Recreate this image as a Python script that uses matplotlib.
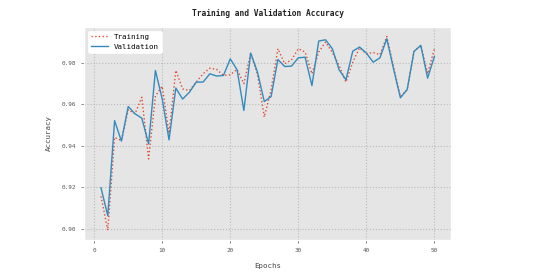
import matplotlib
matplotlib.use('Agg')
import matplotlib.pyplot as plt

# accuracy per epoch
epochs = list(range(1, 51))
train_acc = [0.9156, 0.8992, 0.9440, 0.9425, 0.9573, 0.9554, 0.9634, 0.9336, 0.9640, 0.9687,
             0.9460, 0.9763, 0.9674, 0.9666, 0.9707, 0.9747, 0.9774, 0.9768, 0.9739, 0.9742,
             0.9768, 0.9699, 0.9847, 0.9744, 0.9538, 0.9670, 0.9868, 0.9795, 0.9814, 0.9868,
             0.9852, 0.9747, 0.9852, 0.9900, 0.9850, 0.9787, 0.9707, 0.9803, 0.9872, 0.9843,
             0.9850, 0.9839, 0.9927, 0.9780, 0.9637, 0.9670, 0.9855, 0.9884, 0.9747, 0.9868]
val_acc = [0.9197, 0.9062, 0.9521, 0.9422, 0.9589, 0.9554, 0.9533, 0.9409, 0.9763, 0.9625,
           0.9428, 0.9678, 0.9625, 0.9658, 0.9707, 0.9707, 0.9747, 0.9736, 0.9739, 0.9819,
           0.9766, 0.9570, 0.9847, 0.9755, 0.9613, 0.9637, 0.9816, 0.9782, 0.9784, 0.9824,
           0.9827, 0.9690, 0.9905, 0.9911, 0.9868, 0.9766, 0.9718, 0.9856, 0.9876, 0.9847,
           0.9803, 0.9824, 0.9916, 0.9770, 0.9631, 0.9671, 0.9855, 0.9884, 0.9726, 0.9831]

plt.style.use('ggplot')
plt.rcParams['font.family'] = 'DejaVu Sans Mono'

fig = plt.figure(figsize=(5.37, 2.79), dpi=100)
ax = fig.add_axes([0.157, 0.140, 0.683, 0.764])

ax.plot(epochs, train_acc, linestyle=':', color='#E24A33', linewidth=1.0, label='Training')
ax.plot(epochs, val_acc, linestyle='-', color='#348ABD', linewidth=1.0, label='Validation')

ax.grid(True, linestyle=':', color='#BBBBBB', linewidth=0.8)
ax.set_facecolor('#E5E5E5')
ax.set_yticks([0.90, 0.92, 0.94, 0.96, 0.98])
ax.set_xticks([0, 10, 20, 30, 40, 50])
ax.tick_params(labelsize=4.3, colors='#555555', length=2.5, width=0.5)

ax.set_title('Training and Validation Accuracy', fontsize=5.7, fontweight='bold',
             color='#222222', pad=8)
ax.set_xlabel('Epochs', fontsize=5.3, color='#444444', labelpad=7)
ax.set_ylabel('Accuracy', fontsize=5.3, color='#444444', labelpad=7)

leg = ax.legend(loc='upper left', fontsize=5.4, frameon=True, facecolor='white',
                edgecolor='white', framealpha=1.0, handlelength=2.2)

fig.savefig('out.png', dpi=100)
